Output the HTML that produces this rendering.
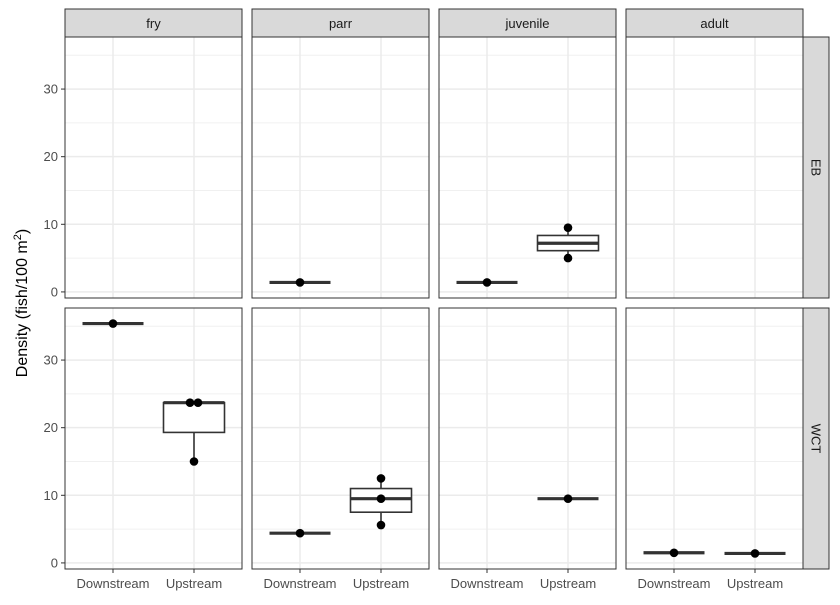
<!DOCTYPE html>
<html><head><meta charset="utf-8"><style>
body{margin:0;background:#fff;font-family:"Liberation Sans",Arial,sans-serif}
</style></head><body>
<svg id="c" width="840" height="600" xmlns="http://www.w3.org/2000/svg"></svg>
<script>
const stages=["fry","parr","juvenile","adult"];
const species=["EB","WCT"];
const groups=["Downstream","Upstream"];
const yTicks=[0,10,20,30];
// boxes: [species, stage, group, q1, median, q3, lowerWhisker, upperWhisker]
const boxes=[
 ["EB","parr","Downstream",1.4,1.4,1.4,1.4,1.4],
 ["EB","juvenile","Downstream",1.4,1.4,1.4,1.4,1.4],
 ["EB","juvenile","Upstream",6.1,7.2,8.35,5,9.5],
 ["WCT","fry","Downstream",35.4,35.4,35.4,35.4,35.4],
 ["WCT","fry","Upstream",19.3,23.7,23.7,15,23.7],
 ["WCT","parr","Downstream",4.4,4.4,4.4,4.4,4.4],
 ["WCT","parr","Upstream",7.5,9.5,11,5.6,12.5],
 ["WCT","juvenile","Upstream",9.5,9.5,9.5,9.5,9.5],
 ["WCT","adult","Downstream",1.5,1.5,1.5,1.5,1.5],
 ["WCT","adult","Upstream",1.4,1.4,1.4,1.4,1.4]
];
// points: [species, stage, group, value, jitter]
const points=[
 ["EB","parr","Downstream",1.4,0],
 ["EB","juvenile","Downstream",1.4,0],
 ["EB","juvenile","Upstream",5,0],["EB","juvenile","Upstream",9.5,0],
 ["WCT","fry","Downstream",35.4,0],
 ["WCT","fry","Upstream",23.7,-1],["WCT","fry","Upstream",23.7,1],["WCT","fry","Upstream",15,0],
 ["WCT","parr","Downstream",4.4,0],
 ["WCT","parr","Upstream",12.5,0],["WCT","parr","Upstream",9.5,0],["WCT","parr","Upstream",5.6,0],
 ["WCT","juvenile","Upstream",9.5,0],
 ["WCT","adult","Downstream",1.5,0],["WCT","adult","Upstream",1.4,0]
];
const svg=document.getElementById('c');
const NS="http://www.w3.org/2000/svg";
function mk(t,a,p){const e=document.createElementNS(NS,t);for(const k in a)e.setAttribute(k,a[k]);(p||svg).appendChild(e);return e;}
const colX=[65,252,439,626],PW=177;
const rowTop=[37,308],PH=261;
const yMin=-0.9,yMax=37.7;
function yS(r,v){return rowTop[r]+PH-(v-yMin)/(yMax-yMin)*PH;}
function xS(c,g){return colX[c]+PW*(0.5+ (g-0.5)*0.4591)+( g===0?0:0);}
function gx(c,gi){return colX[c]+48+gi*81;}
species.forEach((sp,r)=>{
 stages.forEach((st,c)=>{
  const x0=colX[c],y0=rowTop[r];
  const g=mk('g',{});
  
  
  mk('rect',{x:x0,y:y0,width:PW,height:PH,fill:'#fff'},g);
  for(let v=5;v<=35;v+=10)mk('line',{x1:x0,x2:x0+PW,y1:yS(r,v),y2:yS(r,v),stroke:'#f0f0f0','stroke-width':1},g);
  yTicks.forEach(v=>mk('line',{x1:x0,x2:x0+PW,y1:yS(r,v),y2:yS(r,v),stroke:'#ebebeb','stroke-width':1.5},g));
  groups.forEach((gr,gi)=>mk('line',{x1:gx(c,gi),x2:gx(c,gi),y1:y0,y2:y0+PH,stroke:'#ebebeb','stroke-width':1.5},g));
  boxes.filter(b=>b[0]===sp&&b[1]===st).forEach(b=>{
   const cx=gx(c,groups.indexOf(b[2])),hw=30.5;
   const bg=mk('g',{},g);
   
   
   mk('line',{x1:cx,x2:cx,y1:yS(r,b[7]),y2:yS(r,b[5]),stroke:'#333','stroke-width':1.6},bg);
   mk('line',{x1:cx,x2:cx,y1:yS(r,b[3]),y2:yS(r,b[6]),stroke:'#333','stroke-width':1.6},bg);
   mk('rect',{x:cx-hw,y:yS(r,b[5]),width:2*hw,height:Math.max(0,yS(r,b[3])-yS(r,b[5])),fill:'#fff',stroke:'#333','stroke-width':1.6},bg);
   mk('line',{x1:cx-hw,x2:cx+hw,y1:yS(r,b[4]),y2:yS(r,b[4]),stroke:'#333','stroke-width':3.2},bg);
  });
  points.filter(p=>p[0]===sp&&p[1]===st).forEach(p=>{
   const cx=gx(c,groups.indexOf(p[2]))+p[4]*4;
   const pt=mk('circle',{cx:cx,cy:yS(r,p[3]),r:4.3,fill:'#000'},g);
   
   
  });
  mk('rect',{x:x0,y:y0,width:PW,height:PH,fill:'none',stroke:'#333','stroke-width':1},g);
  if(r===0){
   const s=mk('g',{});
   
   
   mk('rect',{x:x0,y:9,width:PW,height:28,fill:'#d9d9d9',stroke:'#333','stroke-width':1},s);
   const t=mk('text',{x:x0+PW/2,y:28,'text-anchor':'middle','font-size':13,fill:'#1a1a1a'},s);t.textContent=st;
  }
  if(c===0){
   yTicks.forEach(v=>{
    mk('line',{x1:x0-4,x2:x0,y1:yS(r,v),y2:yS(r,v),stroke:'#333'});
    const t=mk('text',{x:x0-7,y:yS(r,v)+4.5,'text-anchor':'end','font-size':13,fill:'#4d4d4d'});
    
    
    t.textContent=v;
   });
  }
  if(r===1){
   groups.forEach((gr,gi)=>{
    mk('line',{x1:gx(c,gi),x2:gx(c,gi),y1:y0+PH,y2:y0+PH+4,stroke:'#333'});
    const t=mk('text',{x:gx(c,gi),y:588,'text-anchor':'middle','font-size':13,fill:'#4d4d4d'});
    
    
    t.textContent=gr;
   });
  }
 });
 const s=mk('g',{});
 
 
 mk('rect',{x:803,y:rowTop[r],width:26,height:PH,fill:'#d9d9d9',stroke:'#333','stroke-width':1},s);
 const yc=rowTop[r]+PH/2;
 const t=mk('text',{x:816,y:yc,'text-anchor':'middle','font-size':13,fill:'#1a1a1a',transform:'rotate(90 816 '+yc+')','dominant-baseline':'central'},s);t.textContent=sp;
});
const yl=mk('text',{x:27,y:303,'text-anchor':'middle','font-size':16,fill:'#000',transform:'rotate(-90 27 303)'});


yl.innerHTML='Density (fish/100 m<tspan baseline-shift="super" font-size="11">2</tspan>)';
</script>
</body></html>
